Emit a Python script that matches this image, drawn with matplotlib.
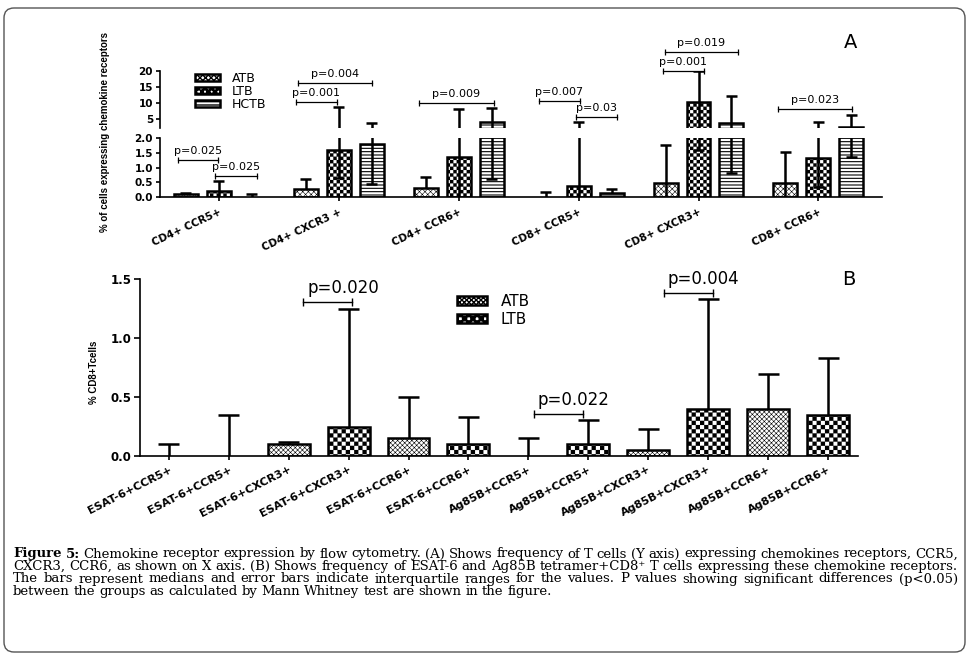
import matplotlib
matplotlib.use('Agg')
import numpy as np
import matplotlib.pyplot as plt
from matplotlib import hatch as mhatch
from matplotlib.path import Path
from matplotlib.patches import FancyBboxPatch, Rectangle


# DATOS - panel A (medianas y rango intercuartil)

grupos_a = ["CD4+ CCR5+", "CD4+ CXCR3 +", "CD4+ CCR6+", "CD8+ CCR5+", "CD8+ CXCR3+", "CD8+ CCR6+"]
series_a = ["ATB", "LTB", "HCTB"]

atb_med = [0.10, 0.27, 0.32, 0.00, 0.46, 0.46]
atb_q1 = [0.10, 0.27, 0.32, 0.00, 0.00, 0.00]
atb_q3 = [0.12, 0.62, 0.69, 0.16, 1.76, 1.52]

ltb_med = [0.22, 1.60, 1.37, 0.37, 10.4, 1.31]
ltb_q1 = [0.00, 0.65, 0.00, 0.00, 1.60, 0.35]
ltb_q3 = [0.55, 8.6, 8.0, 4.2, 20.0, 4.2]

hctb_med = [0.00, 1.80, 4.20, 0.12, 3.70, 2.40]
hctb_q1 = [0.00, 0.45, 0.60, 0.12, 0.80, 1.35]
hctb_q3 = [0.10, 3.70, 8.30, 0.26, 12.2, 6.20]

# p valores panel A
p_a_x1 = [-0.342, -0.033, 0.642, 0.658, 1.667, 2.667, 2.975, 3.700, 3.717, 4.667]
p_a_x2 = [-0.008, 0.317, 0.983, 1.275, 2.292, 3.008, 3.317, 4.042, 4.333, 5.283]
p_a_y = [1.25, 0.72, 10.3, 16.2, 10.0, 10.6, 5.6, 20.0, 25.8, 8.1]
p_a_txt = ["p=0.025", "p=0.025", "p=0.001", "p=0.004", "p=0.009",
           "p=0.007", "p=0.03", "p=0.001", "p=0.019", "p=0.023"]
p_a_eje = ["lo", "lo", "up", "up", "up", "up", "up", "up", "up", "up"]


# DATOS - panel B

etiquetas_b = ["ESAT-6+CCR5+", "ESAT-6+CCR5+", "ESAT-6+CXCR3+", "ESAT-6+CXCR3+",
               "ESAT-6+CCR6+", "ESAT-6+CCR6+", "Ag85B+CCR5+", "Ag85B+CCR5+",
               "Ag85B+CXCR3+", "Ag85B+CXCR3+", "Ag85B+CCR6+", "Ag85B+CCR6+"]
grupo_b = ["ATB", "LTB"] * 6
med_b = [0.0, 0.0, 0.10, 0.25, 0.155, 0.10, 0.0, 0.10, 0.05, 0.40, 0.40, 0.35]
q3_b = [0.10, 0.35, 0.12, 1.25, 0.50, 0.33, 0.155, 0.305, 0.23, 1.33, 0.70, 0.83]

p_b_x1 = [2.237, 6.09, 8.26]
p_b_x2 = [3.055, 6.91, 9.08]
p_b_y = [1.31, 0.36, 1.387]
p_b_txt = ["p=0.020", "p=0.022", "p=0.004"]

caption = [
    "Figure 5: Chemokine receptor expression by flow cytometry. (A) Shows frequency of T cells (Y axis) expressing chemokines receptors, CCR5,",
    "CXCR3, CCR6, as shown on X axis. (B) Shows frequency of ESAT-6 and Ag85B tetramer+CD8\u207a T cells expressing these chemokine receptors.",
    "The bars represent medians and error bars indicate interquartile ranges for the values. P values showing significant differences (p<0.05)",
    "between the groups as calculated by Mann Whitney test are shown in the figure.",
]


# TRAMA DE AJEDREZ (se usa la letra 'O' del hatch)

class Ajedrez(mhatch.HatchPatternBase):
    def __init__(self, hatch, density):
        self.n = hatch.count('O') * density
        if self.n % 2:
            self.n += 1
        self.num_vertices = (self.n * self.n // 2) * 5

    def set_vertices_and_codes(self, vertices, codes):
        n = self.n
        s = 1.0 / n
        cuadro = np.array([[0, 0], [s, 0], [s, s], [0, s], [0, 0]])
        cods = [Path.MOVETO, Path.LINETO, Path.LINETO, Path.LINETO, Path.CLOSEPOLY]
        k = 0
        for i in range(n):
            for j in range(n):
                if (i + j) % 2 == 0:
                    vertices[k:k + 5] = cuadro + [i * s, j * s]
                    codes[k:k + 5] = cods
                    k += 5


try:
    mhatch._hatch_types = [Ajedrez if t is mhatch.LargeCircles else t
                           for t in mhatch._hatch_types]
    ltb_a, ltb_b, ltb_lw = "OOOOO", "OOOO", 0.1
except Exception:
    ltb_a, ltb_b, ltb_lw = "+++", "++", 1.2


# ESTILOS

hatch_a = {"ATB": ("xxxxxx", 0.4), "LTB": (ltb_a, ltb_lw), "HCTB": ("-----", 0.8)}
hatch_b = {"ATB": ("xxxxxxx", 0.4), "LTB": (ltb_b, ltb_lw)}

plt.rcParams['hatch.linewidth'] = 1.0
plt.rcParams['font.family'] = 'DejaVu Sans'


def hatch_lw(patches, lw):
    for p in patches:
        if hasattr(p, 'set_hatch_linewidth'):
            p.set_hatch_linewidth(lw)


def error_iqr(ax, xs, med, q1, q3, semi):
    # linea del cuartil 1 al 3, con tapas solo dentro del rango del eje
    ax.vlines(xs, q1, q3, colors='black', lw=1.8, zorder=3)
    ylo, yhi = ax.get_ylim()
    m = (q3 >= ylo) & (q3 <= yhi)
    ax.hlines(q3[m], xs[m] - semi, xs[m] + semi, colors='black', lw=1.8, zorder=3)
    m = (q1 >= ylo) & (q1 <= yhi) & (q1 > 0) & (q1 < med)
    ax.hlines(q1[m], xs[m] - semi, xs[m] + semi, colors='black', lw=1.8, zorder=3)


def fx(px):
    return px / 974


def fy(py):
    return 1 - py / 661


fig = plt.figure(figsize=(9.74, 6.61), dpi=100)

ax_up = fig.add_axes([fx(160), fy(128.3), fx(882) - fx(160), fy(70.7) - fy(128.3)])
ax_lo = fig.add_axes([fx(160), fy(197), fx(882) - fx(160), fy(138) - fy(197)])
ax_b = fig.add_axes([fx(140), fy(456), fx(858) - fx(140), fy(279.3) - fy(456)])


# PANEL A

ax_up.set_ylim(2.11, 20)
ax_lo.set_ylim(0, 2.0)

x_a = np.arange(len(grupos_a))
offs = [-0.275, 0.0, 0.275]
datos_a = [(atb_med, atb_q1, atb_q3), (ltb_med, ltb_q1, ltb_q3), (hctb_med, hctb_q1, hctb_q3)]

for ax in (ax_up, ax_lo):
    for k, s in enumerate(series_a):
        med, q1, q3 = [np.array(v) for v in datos_a[k]]
        xs = x_a + offs[k]
        h, hlw = hatch_a[s]
        lws = np.where(med > 0, 1.8, 0)
        bars = ax.bar(xs, med, width=0.2, color='white', edgecolor='black',
                      linewidth=lws, hatch=h, zorder=2)
        hatch_lw(bars, hlw)
        error_iqr(ax, xs, med, q1, q3, 0.046)
    ax.set_xlim(-0.49, 5.53)
    for sp_ in ['top', 'right']:
        ax.spines[sp_].set_visible(False)
    ax.spines['left'].set_linewidth(1.2)
    ax.spines['bottom'].set_linewidth(1.2)
    ax.tick_params(axis='y', length=3, width=1.2, pad=2)

ax_up.set_yticks([5, 10, 15, 20])
ax_up.set_yticklabels(["5", "10", "15", "20"], fontweight='bold', fontsize=7.5)
ax_up.spines['bottom'].set_visible(False)
ax_up.set_xticks([])

ax_lo.set_yticks([0, 0.5, 1.0, 1.5, 2.0])
ax_lo.set_yticklabels(["0.0", "0.5", "1.0", "1.5", "2.0"], fontweight='bold', fontsize=7.5)
ax_lo.set_xticks(x_a)
ax_lo.set_xticklabels(grupos_a, rotation=25, ha='right', rotation_mode='anchor',
                      fontweight='bold', fontsize=7.5)
ax_lo.tick_params(axis='x', length=3, width=1.2, pad=4)

for x1, x2, y, t, e in zip(p_a_x1, p_a_x2, p_a_y, p_a_txt, p_a_eje):
    ax = ax_up if e == "up" else ax_lo
    ax.plot([x1, x2], [y, y], color='black', lw=0.9, clip_on=False, zorder=4)
    ax.plot([x1, x2], [y, y], ls='none', marker='|', ms=5, mew=0.9, color='black',
            clip_on=False, zorder=4)
    ax.annotate(t, ((x1 + x2) / 2, y), xytext=(0, 6.5), textcoords='offset points',
                ha='center', va='center', fontsize=8, annotation_clip=False)

handles_a = []
for s in series_a:
    r = Rectangle((0, 0), 1, 1, facecolor='white', edgecolor='black', linewidth=1.8,
                  hatch=hatch_a[s][0])
    hatch_lw([r], hatch_a[s][1])
    handles_a.append(r)

fig.legend(handles_a, series_a, loc='upper left', bbox_to_anchor=(fx(195), fy(72)),
           bbox_transform=fig.transFigure, frameon=False, borderpad=0, borderaxespad=0,
           fontsize=9, handlelength=2.0, handleheight=0.5, handletextpad=0.96,
           labelspacing=0.0)

fig.text(fx(105), fy(132), "% of cells expressing chemokine receptors", rotation=90,
         ha='center', va='center', fontsize=7.0, fontweight='bold', family='Liberation Sans')
fig.text(fx(851), fy(42), "A", ha='center', va='center', fontsize=14)


# PANEL B

ax_b.set_xlim(-0.48, 11.5)
ax_b.set_ylim(0, 1.5)

x_b = np.arange(len(etiquetas_b))
med_b_arr = np.array(med_b)
q3_b_arr = np.array(q3_b)
for s in ["ATB", "LTB"]:
    idx = np.array([g == s for g in grupo_b])
    h, hlw = hatch_b[s]
    lws = np.where(med_b_arr[idx] > 0, 1.8, 0)
    bars = ax_b.bar(x_b[idx], med_b_arr[idx], width=0.7, color='white', edgecolor='black',
                    linewidth=lws, hatch=h, zorder=2)
    hatch_lw(bars, hlw)

error_iqr(ax_b, x_b, med_b_arr, med_b_arr, q3_b_arr, 0.175)

ax_b.set_yticks([0, 0.5, 1.0, 1.5])
ax_b.set_yticklabels(["0.0", "0.5", "1.0", "1.5"], fontweight='bold', fontsize=8.5)
ax_b.set_xticks(x_b)
ax_b.set_xticklabels(etiquetas_b, rotation=27, ha='right', rotation_mode='anchor',
                     fontweight='bold', fontsize=8)
for sp_ in ['top', 'right']:
    ax_b.spines[sp_].set_visible(False)
ax_b.spines['left'].set_linewidth(1.2)
ax_b.spines['bottom'].set_linewidth(1.2)
ax_b.tick_params(axis='y', length=4.5, width=1.2, pad=1.5)
ax_b.tick_params(axis='x', length=3, width=1.2, pad=3)

for x1, x2, y, t in zip(p_b_x1, p_b_x2, p_b_y, p_b_txt):
    ax_b.plot([x1, x2], [y, y], color='black', lw=1.0, clip_on=False, zorder=4)
    ax_b.plot([x1, x2], [y, y], ls='none', marker='|', ms=6, mew=1.0, color='black',
              clip_on=False, zorder=4)
    ax_b.annotate(t, (x1, y), xytext=(3, 10), textcoords='offset points',
                  ha='left', va='center', fontsize=12, annotation_clip=False)

handles_b = []
for s in ["ATB", "LTB"]:
    r = Rectangle((0, 0), 1, 1, facecolor='white', edgecolor='black', linewidth=1.8,
                  hatch=hatch_b[s][0])
    hatch_lw([r], hatch_b[s][1])
    handles_b.append(r)

fig.legend(handles_b, ["ATB", "LTB"], loc='upper left', bbox_to_anchor=(fx(457), fy(294)),
           bbox_transform=fig.transFigure, frameon=False, borderpad=0, borderaxespad=0,
           fontsize=11, handlelength=1.96, handleheight=0.59, handletextpad=0.9,
           labelspacing=0.2)

fig.text(fx(94), fy(372), "% CD8+Tcells", rotation=90, ha='center', va='center',
         fontsize=7.0, fontweight='bold', family='Liberation Sans')
fig.text(fx(849), fy(280), "B", ha='center', va='center', fontsize=14)


# LEYENDA DE LA FIGURA (texto justificado)

renderer = fig.canvas.get_renderer()
x_ini, x_fin = 13, 958
y_lineas = [554, 566.5, 579, 591.5]
cap_font = dict(fontsize=9.5, family=['DejaVu Serif', 'DejaVu Sans'])

for n, linea in enumerate(caption):
    palabras = linea.split(' ')
    textos = []
    anchos = []
    for i, w in enumerate(palabras):
        peso = 'bold' if (n == 0 and i < 2) else 'normal'
        t = fig.text(0, fy(y_lineas[n]), w, ha='left', va='center', fontweight=peso, **cap_font)
        anchos.append(t.get_window_extent(renderer).width)
        textos.append(t)
    if n < len(caption) - 1:
        gap = (x_fin - x_ini - sum(anchos)) / (len(palabras) - 1)
    else:
        gap = 4.0
    x = x_ini
    for t, a in zip(textos, anchos):
        t.set_x(fx(x))
        x += a + gap


# MARCO

marco = FancyBboxPatch((0.04, 0.09), 9.61, 6.44, boxstyle='round,pad=0,rounding_size=0.1',
                       transform=fig.dpi_scale_trans, fill=False, edgecolor='#555555',
                       linewidth=1.0)
fig.add_artist(marco)

fig.savefig('out.png', dpi=100)
